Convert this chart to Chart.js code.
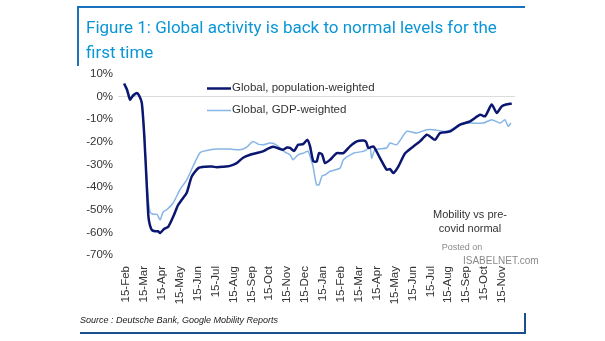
<!DOCTYPE html>
<html>
<head>
<meta charset="utf-8">
<script src="https://cdn.jsdelivr.net/npm/chart.js@4.4.0/dist/chart.umd.min.js"></script>
<style>
	html, body { margin: 0; padding: 0; background: #fff; }
	#wrap { width: 605px; height: 341px; position: relative; }
</style>
</head>
<body>
<div id="wrap"><canvas id="chartMobility" width="605" height="341"></canvas></div>
<script>
// month offsets from 15-Feb-2020
const tickLabels = [
	"15-Feb", "15-Mar", "15-Apr", "15-May", "15-Jun", "15-Jul", "15-Aug",
	"15-Sep", "15-Oct", "15-Nov", "15-Dec", "15-Jan", "15-Feb", "15-Mar",
	"15-Apr", "15-May", "15-Jun", "15-Jul", "15-Aug", "15-Sep", "15-Oct", "15-Nov",
];

const popMonths = [
	-0.11, 0.06, 0.22, 0.39, 0.6, 0.73, 0.88, 1.02, 1.16, 1.25, 1.34, 1.45, 1.62,
	1.79, 1.9, 2.12, 2.36, 2.64, 2.9, 3.11, 3.39, 3.67, 4.04, 4.41, 4.79, 5.07,
	5.42, 5.81, 6.18, 6.54, 6.93, 7.26, 7.65, 7.93, 8.21, 8.49, 8.77, 8.99, 9.16,
	9.39, 9.61, 9.89, 10.13, 10.28, 10.46, 10.65, 10.78, 10.95, 11.12, 11.4,
	11.77, 12.14, 12.51, 12.89, 13.26, 13.41, 13.54, 13.82, 14.19, 14.56, 14.75,
	14.93, 15.21, 15.59, 16.05, 16.42, 16.8, 16.98, 17.26, 17.54, 18.1, 18.66,
	19.22, 19.78, 20.06, 20.43, 20.71, 20.99, 21.23, 21.55,
];
const popValues = [
	5.8, 3, -1.3, 0.5, 1.6, 0.5, -2.8, -17.6, -39.7, -53, -57, -59, -59.5,
	-59.5, -60.3, -58.5, -57.5, -53, -48, -45.6, -42.5, -35.3, -31.6, -31, -30.9, -31.2,
	-31, -30.6, -29.4, -27, -25.7, -25, -24.2, -23, -22.2, -22.8, -23.5, -22.5, -22.7,
	-24, -21.3, -21, -19.1, -22, -28.6, -28.7, -25, -25.5, -29.4, -27.9,
	-25, -25, -22, -19.8, -19.4, -20, -22.7, -22, -27.2, -32.3, -32,
	-33.8, -30.9, -25, -22, -19.8, -16.8, -17.6, -19.1, -16.1, -15.4, -12.4,
	-10.9, -8, -8.7, -3.5, -7.2, -4.3, -3.5, -3.1,
];

const gdpMonths = [
	-0.11, 0.06, 0.22, 0.39, 0.6, 0.73, 0.88, 1.02, 1.16, 1.25, 1.34, 1.51, 1.73,
	1.9, 2.07, 2.27, 2.63, 3.02, 3.39, 3.74, 4.13, 4.51, 5.07, 5.81, 6.37, 6.74,
	7.09, 7.37, 7.65, 8.04, 8.32, 8.6, 8.88, 9.16, 9.33, 9.61, 9.89, 10.17, 10.34,
	10.45, 10.56, 10.65, 10.78, 10.95, 11.12, 11.4, 11.96, 12.14, 12.7, 13.26,
	13.63, 13.72, 13.91, 14.56, 14.75, 15.12, 15.68, 16.24, 16.8, 17.17, 17.92,
	18.66, 19.22, 19.96, 20.43, 20.9, 21.17, 21.35, 21.5,
];
const gdpValues = [
	5.5, 2, -0.5, 0, 1, 0, -3, -17, -37, -46, -51, -52, -52,
	-54.5, -51, -50, -47, -41, -36.8, -30.9, -24.8, -23.8, -23.2, -23.2, -23.5, -22.3,
	-19.8, -21, -21.3, -20.5, -21, -22.7, -24.5, -25.7, -27.9, -25.7, -25, -24.2, -28,
	-30.9, -36, -39, -39, -35, -34.6, -33, -31.6, -27.9, -25, -24.2,
	-22.7, -27.2, -23.5, -22.7, -20.5, -21.3, -15.4, -16.1, -14.6, -14.6, -15.4,
	-12.4, -11.7, -11.7, -10.2, -11.7, -10.2, -13.1, -11.7,
];

const toPoints = (xs, ys) => xs.map((x, i) => ({ x: x, y: ys[i] }));

const popColor = "#0b1670";
const gdpColor = "#86b5e6";
const txtColor = "#333333";

const decorPlugin = {
	id: "decor",
	afterDraw: (chart) => {
		const ctx = chart.ctx;
		ctx.save();
		// frame
		ctx.lineWidth = 2;
		ctx.strokeStyle = "#1b72bc";
		ctx.beginPath();
		ctx.moveTo(78, 66);
		ctx.lineTo(78, 7);
		ctx.lineTo(525, 7);
		ctx.stroke();
		ctx.strokeStyle = "#1b4f8f";
		ctx.beginPath();
		ctx.moveTo(80, 333);
		ctx.lineTo(525, 333);
		ctx.lineTo(525, 313);
		ctx.stroke();

		// title
		ctx.fillStyle = "#0a96d6";
		ctx.font = "17px Roboto";
		ctx.textBaseline = "middle";
		ctx.textAlign = "left";
		ctx.fillText("Figure 1: Global activity is back to normal levels for the", 86, 29);
		ctx.fillText("first time", 86, 54);

		// legend
		ctx.lineWidth = 2.5;
		ctx.strokeStyle = popColor;
		ctx.beginPath();
		ctx.moveTo(207, 88.5);
		ctx.lineTo(231, 88.5);
		ctx.stroke();
		ctx.lineWidth = 1.5;
		ctx.strokeStyle = gdpColor;
		ctx.beginPath();
		ctx.moveTo(207, 110.5);
		ctx.lineTo(231, 110.5);
		ctx.stroke();
		ctx.fillStyle = txtColor;
		ctx.font = "11.5px 'Liberation Sans'";
		ctx.fillText("Global, population-weighted", 232, 88);
		ctx.fillText("Global, GDP-weighted", 232, 110);

		// note
		ctx.textAlign = "center";
		ctx.font = "11px 'Liberation Sans'";
		ctx.fillText("Mobility vs pre-", 470, 215);
		ctx.fillText("covid normal", 470, 229);

		// watermark
		ctx.fillStyle = "#8a8a8a";
		ctx.font = "9px 'Liberation Sans'";
		ctx.fillText("Posted on", 462, 248);
		ctx.font = "10px 'Liberation Sans'";
		ctx.textAlign = "left";
		ctx.fillText("ISABELNET.com", 463, 261);

		// source
		ctx.fillStyle = "#222";
		ctx.font = "italic 9px 'Liberation Sans'";
		ctx.fillText("Source : Deutsche Bank, Google Mobility Reports", 80, 320);
		ctx.restore();
	},
};

const chartMobility = new Chart(document.getElementById("chartMobility"), {
	type: "line",
	data: {
		datasets: [
			{
				label: "Global, population-weighted",
				data: toPoints(popMonths, popValues),
				borderColor: popColor,
				borderWidth: 2.5,
				pointRadius: 0,
				tension: 0.2,
			},
			{
				label: "Global, GDP-weighted",
				data: toPoints(gdpMonths, gdpValues),
				borderColor: gdpColor,
				borderWidth: 1.5,
				pointRadius: 0,
				tension: 0.2,
			},
		],
	},
	options: {
		responsive: false,
		animation: false,
		layout: { padding: { left: 60, right: 90, top: 74, bottom: 36 } },
		plugins: {
			legend: { display: false },
			tooltip: { enabled: false },
		},
		scales: {
			x: {
				type: "linear",
				min: -0.45,
				max: 21.73,
				afterFit: (scale) => {
					scale.height = 50;
				},
				afterBuildTicks: (scale) => {
					scale.ticks = tickLabels.map((_, i) => ({ value: i }));
				},
				ticks: {
					autoSkip: false,
					minRotation: 90,
					maxRotation: 90,
					padding: 3,
					color: txtColor,
					font: { family: "'Liberation Sans'", size: 11.5 },
					callback: (value) => tickLabels[value],
				},
				grid: { display: false },
				border: { display: false },
			},
			y: {
				min: -70,
				max: 10,
				afterFit: (scale) => {
					scale.width = 58;
				},
				ticks: {
					stepSize: 10,
					padding: 5,
					color: txtColor,
					font: { family: "'Liberation Sans'", size: 11.5 },
					callback: (value) => value + "%",
				},
				grid: {
					drawTicks: false,
					color: (c) => (c.tick && c.tick.value === 0 ? "#dcdcdc" : "rgba(0,0,0,0)"),
				},
				border: { display: false },
			},
		},
	},
	plugins: [decorPlugin],
});
</script>
</body>
</html>
